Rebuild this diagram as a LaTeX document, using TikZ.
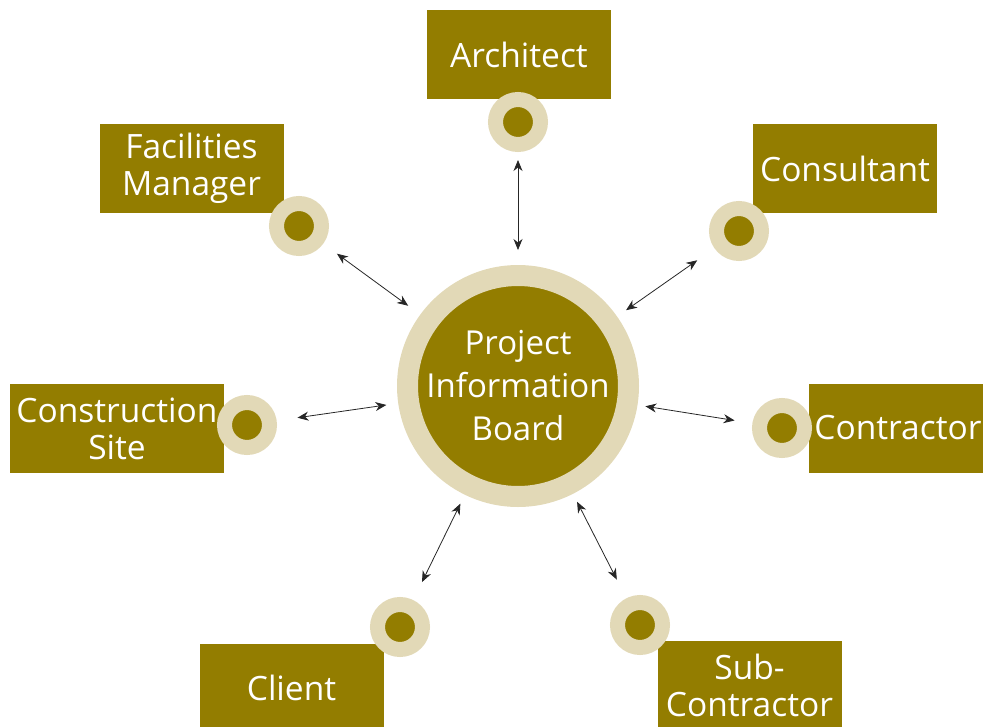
\documentclass[tikz,border=0pt]{standalone}
\usepackage{fontspec}
\setmainfont{Open Sans}
\usetikzlibrary{arrows.meta}
\definecolor{olive}{RGB}{147,125,0}
\definecolor{beige}{RGB}{226,217,183}
\begin{document}
\begin{tikzpicture}[x=1pt,y=-1pt,font=\fontsize{33.5}{37}\selectfont,
  box/.style={fill=olive,text=white,align=center,minimum width=184,minimum height=89,inner sep=0},
  dot/.style={circle,fill=olive,draw=beige,line width=15,minimum size=45,inner sep=0},
  link/.style={{Stealth[length=11,width=9,inset=3.5]}-{Stealth[length=11,width=9,inset=3.5]},line width=0.8,draw=black!85}]
\useasboundingbox(0,0)rectangle(983,726);
% boxes
\node[box](arch)at(519,54.5){Architect};
\node[box](fm)at(191.5,168.5){Facilities\\Manager};
\node[box](cons)at(845,168.5){Consultant};
\node[box,minimum width=214](site)at(117,428.5){Construction\\Site};
\node[box,minimum width=178](contr)at(898,428){Contractor};
\node[box](client)at(291.5,688){Client};
\node[box](sub)at(749.5,685){Sub-\\Contractor};
% centre
\node[circle,fill=olive,draw=beige,line width=21,minimum size=221,inner sep=0,text=white,align=center,
  font=\fontsize{33}{43}\selectfont](pib)at(518,386){Project\\Information\\Board};
% dots
\node[dot](darch)at(518,122){};
\node[dot](dfm)at(299,226){};
\node[dot](dcons)at(739,231){};
\node[dot](dsite)at(247,425){};
\node[dot](dcontr)at(782,428){};
\node[dot](dclient)at(400,627){};
\node[dot](dsub)at(640,625){};
% links
\foreach \d/\s/\e in {darch/8/15,dfm/17/15,dcons/21/11,dsite/21/12,dcontr/18/8,dclient/20/10,dsub/21/9}
  \draw[link,shorten <=\s,shorten >=\e](\d)--(pib);
\end{tikzpicture}
\end{document}
